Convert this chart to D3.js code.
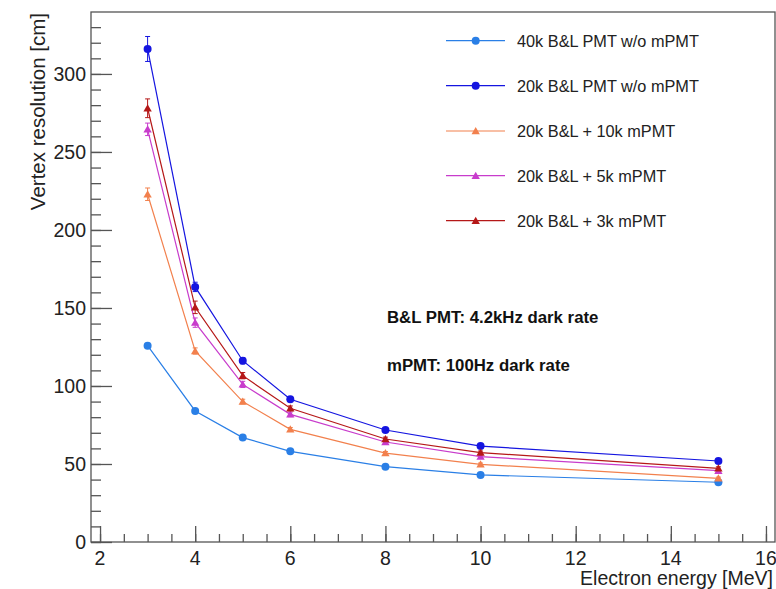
<!DOCTYPE html>
<html><head><meta charset="utf-8">
<script src="https://cdn.jsdelivr.net/npm/d3@7"></script>
<style>body{margin:0;background:#fff;}svg{display:block;font-family:"Liberation Sans",Arial,sans-serif;}</style>
</head><body><svg id="c" width="776" height="589"></svg>
<script>
const energies = [3, 4, 5, 6, 8, 10, 15];
const seriesNames = ["40k B&L PMT w/o mPMT", "20k B&L PMT w/o mPMT", "20k B&L + 10k mPMT", "20k B&L + 5k mPMT", "20k B&L + 3k mPMT"];
const seriesColors = ["#2a7fe6", "#1515e0", "#f2804d", "#c83ccc", "#b51818"];
const seriesMarkers = ["circle", "circle", "triangle", "triangle", "triangle"];
const res40k = [125.8, 84.0, 66.9, 58.1, 48.3, 43.0, 38.3];
const res20k = [316.0, 163.5, 116.2, 91.5, 71.8, 61.5, 51.9];
const res10kM = [222.9, 122.4, 90.0, 72.2, 57.0, 49.8, 40.8];
const res5kM = [264.5, 140.6, 101.0, 81.8, 64.1, 54.7, 45.7];
const res3kM = [278.0, 150.4, 106.6, 85.7, 66.0, 57.3, 47.2];
const err40k = [1.5, 1.2, 1.0, 0.8, 0.7, 0.6, 0.6];
const err20k = [8, 3, 2, 1.5, 1.2, 1, 1];
const err10kM = [4, 2, 1.5, 1.2, 1, 0.8, 0.8];
const err5kM = [4, 3, 2, 1.5, 1.2, 1, 1];
const err3kM = [6, 4, 2, 1.5, 1.2, 1, 1];
const xTicks = [2, 4, 6, 8, 10, 12, 14, 16];
const yTicks = [0, 50, 100, 150, 200, 250, 300];
const annotations = ["B&L PMT: 4.2kHz dark rate", "mPMT: 100Hz dark rate"];

const values = [res40k, res20k, res10kM, res5kM, res3kM];
const errors = [err40k, err20k, err10kM, err5kM, err3kM];

const svg = d3.select("#c");
const L = 91, R = 775, T = 12, B = 542;
const x = d3.scaleLinear().domain([1.81, 16.19]).range([L, R]);
const y = d3.scaleLinear().domain([0, 339.7]).range([B, T]);

// frame
svg.append("rect").attr("x", L).attr("y", T).attr("width", R - L).attr("height", B - T)
  .attr("fill", "none").attr("stroke", "#555").attr("stroke-width", 1.3);

// y axis
const yAx = svg.append("g").attr("transform", `translate(${L},0)`);
yAx.call(d3.axisRight(y).tickValues(d3.range(0, 340, 10)).tickSize(10).tickFormat(""))
  .call(g => g.select(".domain").remove());
yAx.call(g => g.selectAll(".tick line").attr("stroke", "#555").attr("stroke-width", 1.3));
const yMaj = svg.append("g").attr("transform", `translate(${L},0)`)
  .call(d3.axisRight(y).tickValues(yTicks).tickSize(21).tickFormat(""));
yMaj.select(".domain").remove();
yMaj.selectAll(".tick line").attr("stroke", "#555").attr("stroke-width", 1.3);
svg.append("g").selectAll("text").data(yTicks).join("text")
  .attr("x", L - 5).attr("y", d => y(d) + 7).attr("text-anchor", "end")
  .attr("font-size", 19.5).attr("fill", "#222").text(d => d);

// x axis
const xMin = svg.append("g").attr("transform", `translate(0,${B})`)
  .call(d3.axisTop(x).tickValues(d3.range(2, 16.01, 0.5)).tickSize(8).tickFormat(""));
xMin.select(".domain").remove();
xMin.selectAll(".tick line").attr("stroke", "#555").attr("stroke-width", 1.3);
const xMaj = svg.append("g").attr("transform", `translate(0,${B})`)
  .call(d3.axisTop(x).tickValues(xTicks).tickSize(16).tickFormat(""));
xMaj.select(".domain").remove();
xMaj.selectAll(".tick line").attr("stroke", "#555").attr("stroke-width", 1.3);
svg.append("g").selectAll("text").data(xTicks).join("text")
  .attr("x", d => x(d)).attr("y", B + 23).attr("text-anchor", "middle")
  .attr("font-size", 19.5).attr("fill", "#222").text(d => d);

// axis titles
svg.append("text").attr("x", 773).attr("y", 585).attr("text-anchor", "end")
  .attr("font-size", 19.5).attr("fill", "#222").text("Electron energy [MeV]");
svg.append("text").attr("transform", `translate(45,${T + 1}) rotate(-90)`).attr("text-anchor", "end")
  .attr("font-size", 20.5).attr("fill", "#222").text("Vertex resolution [cm]");

// series
const line = d3.line().x(d => x(d[0])).y(d => y(d[1]));
const tri = d3.symbol().type(d3.symbolTriangle).size(30);
function marker(g, type, color, cx, cy) {
  if (type === "circle") {
    g.append("circle").attr("cx", cx).attr("cy", cy).attr("r", 4).attr("fill", color);
  } else {
    g.append("path").attr("d", tri()).attr("transform", `translate(${cx},${cy + 0.8})`).attr("fill", color);
  }
}
values.forEach((vals, i) => {
  const g = svg.append("g");
  const pts = energies.map((e, j) => [e, vals[j]]);
  g.append("path").datum(pts).attr("d", line).attr("fill", "none")
    .attr("stroke", seriesColors[i]).attr("stroke-width", 1.2);
  pts.forEach((p, j) => {
    const e = errors[i][j];
    const cx = x(p[0]);
    g.append("line").attr("x1", cx).attr("x2", cx).attr("y1", y(p[1] - e)).attr("y2", y(p[1] + e))
      .attr("stroke", seriesColors[i]).attr("stroke-width", 1);
    [p[1] - e, p[1] + e].forEach(v => g.append("line").attr("x1", cx - 2.5).attr("x2", cx + 2.5)
      .attr("y1", y(v)).attr("y2", y(v)).attr("stroke", seriesColors[i]).attr("stroke-width", 1));
    marker(g, seriesMarkers[i], seriesColors[i], cx, y(p[1]));
  });
});

// legend
const legY = [40.7, 85.7, 131, 175.7, 220.7];
seriesNames.forEach((n, i) => {
  const g = svg.append("g");
  g.append("line").attr("x1", 446).attr("x2", 505).attr("y1", legY[i]).attr("y2", legY[i])
    .attr("stroke", seriesColors[i]).attr("stroke-width", 1.2);
  marker(g, seriesMarkers[i], seriesColors[i], 475.7, legY[i]);
  g.append("text").attr("x", 517).attr("y", legY[i] + 6).attr("font-size", 16.3)
    .attr("fill", "#222").text(n);
});

// annotations
svg.append("text").attr("x", 387).attr("y", 323).attr("font-size", 16.8).attr("font-weight", "bold")
  .attr("fill", "#111").text(annotations[0]);
svg.append("text").attr("x", 387).attr("y", 371).attr("font-size", 16.8).attr("font-weight", "bold")
  .attr("fill", "#111").text(annotations[1]);
</script></body></html>
